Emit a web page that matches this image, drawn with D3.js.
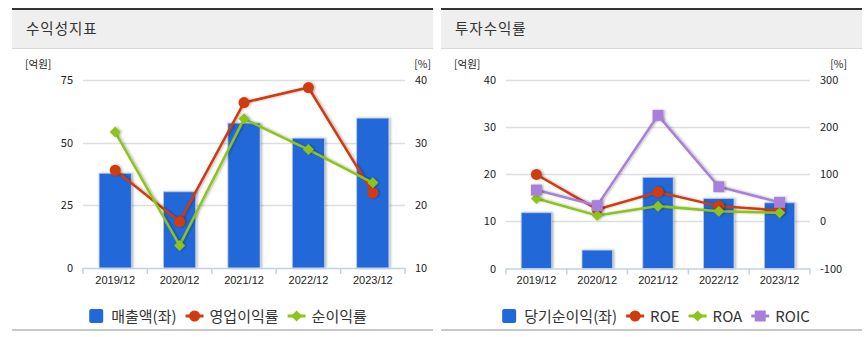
<!DOCTYPE html>
<html><head><meta charset="utf-8">
<script src="https://cdn.jsdelivr.net/npm/d3@7"></script>
<style>
html,body{margin:0;padding:0;background:#fff;}
svg{display:block;font-family:"Noto Sans CJK KR","Noto Sans",sans-serif;}
</style></head>
<body>
<svg id="c" width="866" height="337"></svg>
<script>
// ---------- data ----------
const categories = ["2019/12","2020/12","2021/12","2022/12","2023/12"];

// panel 1: 수익성지표
const sales = [37.8, 30.4, 57.8, 51.8, 59.8];          // 매출액(좌) 억원
const opMargin = [25.6, 17.4, 36.4, 38.8, 22.0];        // 영업이익률 %
const netMargin = [31.7, 13.6, 33.8, 28.9, 23.6];       // 순이익률 %
const leftTicks1 = [0, 25, 50, 75];
const rightTicks1 = [10, 20, 30, 40];

// panel 2: 투자수익률
const netIncome = [11.8, 3.9, 19.3, 14.8, 13.9];        // 당기순이익(좌) 억원
const roe = [99, 25, 62, 32, 23];
const roa = [48, 12, 32, 21, 18];
const roic = [66, 33, 224, 73, 40];
const leftTicks2 = [0, 10, 20, 30, 40];
const rightTicks2 = [-100, 0, 100, 200, 300];

const COLORS = {bar:"#2168d8", red:"#d13a0c", green:"#8cc41c", purple:"#a97fdc"};

const svg = d3.select("#c");
const defs = svg.append("defs");
const f = defs.append("filter").attr("id","sh").attr("x","-20%").attr("y","-20%").attr("width","150%").attr("height","150%");
f.append("feDropShadow").attr("dx",1.5).attr("dy",0).attr("stdDeviation",1.2).attr("flood-color","#000").attr("flood-opacity",0.28);

function symbolPath(type, g, x, y, color){
  if(type==="circle"){
    g.append("circle").attr("cx",x).attr("cy",y).attr("r",5.5).attr("fill",color);
  } else if(type==="diamond"){
    const s=5.5;
    g.append("path").attr("d",`M${x},${y-s}L${x+s},${y}L${x},${y+s}L${x-s},${y}Z`).attr("fill",color);
  } else if(type==="square"){
    g.append("rect").attr("x",x-5.5).attr("y",y-5.5).attr("width",11).attr("height",11).attr("fill",color);
  }
}

function drawPanel(cfg){
  const g = svg.append("g");
  // header
  g.append("rect").attr("x",cfg.px0).attr("y",9).attr("width",cfg.px1-cfg.px0).attr("height",39).attr("fill","#efefef");
  g.append("rect").attr("x",cfg.px0).attr("y",8).attr("width",cfg.px1-cfg.px0).attr("height",2).attr("fill","#333");
  g.append("line").attr("x1",cfg.px0).attr("x2",cfg.px1).attr("y1",48.5).attr("y2",48.5).attr("stroke","#d8d8d8");
  g.append("text").attr("x",cfg.px0+14).attr("y",34).attr("font-size",14.5).attr("fill","#333").attr("letter-spacing",1).text(cfg.title);
  // bottom line
  g.append("rect").attr("x",cfg.px0).attr("y",329).attr("width",cfg.px1-cfg.px0).attr("height",2).attr("fill","#c8c8c8");

  const x = d3.scaleBand().domain(categories).range([cfg.x0,cfg.x1]);
  const yl = d3.scaleLinear().domain([cfg.leftTicks[0],cfg.leftTicks[cfg.leftTicks.length-1]]).range([cfg.yb,cfg.yt]);
  const yr = d3.scaleLinear().domain([cfg.rightTicks[0],cfg.rightTicks[cfg.rightTicks.length-1]]).range([cfg.yb,cfg.yt]);

  // grid
  g.selectAll(".grid").data(cfg.leftTicks.slice(1)).enter().append("line")
    .attr("x1",cfg.x0).attr("x2",cfg.x1).attr("y1",d=>Math.round(yl(d))+0.5).attr("y2",d=>Math.round(yl(d))+0.5)
    .attr("stroke","#dedede").attr("stroke-width",1.5);
  // left ticks
  g.selectAll(".lt").data(cfg.leftTicks).enter().append("text")
    .attr("x",cfg.x0-10).attr("y",d=>yl(d)+4).attr("text-anchor","end").attr("font-size",11).attr("fill","#222").text(d=>d);
  g.selectAll(".rt").data(cfg.rightTicks).enter().append("text")
    .attr("x",cfg.x1+10).attr("y",d=>yr(d)+4).attr("text-anchor","start").attr("font-size",11).attr("fill","#222").text(d=>d);
  g.append("text").attr("x",cfg.unitLx).attr("y",68).attr("font-size",10.5).attr("fill","#222").text("[억원]");
  g.append("text").attr("x",cfg.unitRx).attr("y",68).attr("text-anchor","end").attr("font-size",10.5).attr("fill","#222").text("[%]");

  // bars
  const bw = x.bandwidth()*cfg.barFrac;
  g.selectAll(".bar").data(cfg.bars).enter().append("rect")
    .attr("x",(d,i)=>x(categories[i])+(x.bandwidth()-bw)/2)
    .attr("y",d=>yl(d)).attr("width",bw).attr("height",d=>yl(0)-yl(d))
    .attr("fill",COLORS.bar).attr("stroke","#b9c9e4").attr("stroke-width",0.8).attr("filter","url(#sh)");

  // x axis
  const ax = g.append("g").attr("transform",`translate(0,${cfg.yb})`).call(d3.axisBottom(x).tickSize(0).tickPadding(8));
  ax.select(".domain").remove();
  ax.selectAll("text").attr("font-size",11).attr("fill","#222").attr("font-family",null);
  g.append("line").attr("x1",cfg.x0).attr("x2",cfg.x1).attr("y1",cfg.yb+0.5).attr("y2",cfg.yb+0.5).attr("stroke","#c3d1e6").attr("stroke-width",1.5);
  const bounds = categories.map(c=>x(c)).concat([cfg.x1]);
  g.selectAll(".tk").data(bounds).enter().append("line")
    .attr("x1",d=>d).attr("x2",d=>d).attr("y1",cfg.yb).attr("y2",cfg.yb+6).attr("stroke","#c3d1e6").attr("stroke-width",1.5);

  // lines
  cfg.lines.forEach(s=>{
    const line = d3.line().x((d,i)=>x(categories[i])+x.bandwidth()/2).y(d=>yr(d));
    g.append("path").datum(s.values).attr("d",line).attr("fill","none").attr("stroke",s.color).attr("stroke-width",2.5).attr("filter","url(#sh)");
    const mg = g.append("g").attr("filter","url(#sh)");
    s.values.forEach((v,i)=>symbolPath(s.symbol, mg, x(categories[i])+x.bandwidth()/2, yr(v), s.color));
  });

  // legend
  const lg = g.append("g");
  let cx = 0;
  const items = [{name:cfg.barName, type:"bar", color:COLORS.bar}].concat(cfg.lines.map(s=>({name:s.name,type:s.symbol,color:s.color})));
  items.forEach((it,i)=>{
    const ig = lg.append("g").attr("transform",`translate(${cx},0)`);
    let w;
    if(it.type==="bar"){
      ig.append("rect").attr("x",0).attr("y",-7).attr("width",14).attr("height",14).attr("rx",2).attr("fill",it.color);
      w=22;
    } else {
      ig.append("line").attr("x1",0).attr("x2",18).attr("y1",0).attr("y2",0).attr("stroke",it.color).attr("stroke-width",3);
      symbolPath(it.type, ig, 9, 0, it.color);
      w=24;
    }
    const t = ig.append("text").attr("x",w).attr("y",5.5).attr("font-size",15).attr("fill","#333").text(it.name);
    cx += w + t.node().getComputedTextLength() + 9;
  });
  const total = cx-9;
  lg.attr("transform",`translate(${cfg.legendCx-total/2},316)`);
}

drawPanel({
  title:"수익성지표", px0:12, px1:433,
  x0:83, x1:405, yt:80, yb:268,
  leftTicks:leftTicks1, rightTicks:rightTicks1,
  unitLx:25, unitRx:431,
  bars:sales, barName:"매출액(좌)", barFrac:0.5,
  lines:[
    {name:"영업이익률", values:opMargin, color:COLORS.red, symbol:"circle"},
    {name:"순이익률", values:netMargin, color:COLORS.green, symbol:"diamond"}
  ],
  legendCx:228
});
drawPanel({
  title:"투자수익률", px0:441, px1:862,
  x0:506, x1:810, yt:79.5, yb:268.5,
  leftTicks:leftTicks2, rightTicks:rightTicks2,
  unitLx:454, unitRx:847,
  bars:netIncome, barName:"당기순이익(좌)", barFrac:0.5,
  lines:[
    {name:"ROE", values:roe, color:COLORS.red, symbol:"circle"},
    {name:"ROA", values:roa, color:COLORS.green, symbol:"diamond"},
    {name:"ROIC", values:roic, color:COLORS.purple, symbol:"square"}
  ],
  legendCx:656
});
</script>
</body></html>
